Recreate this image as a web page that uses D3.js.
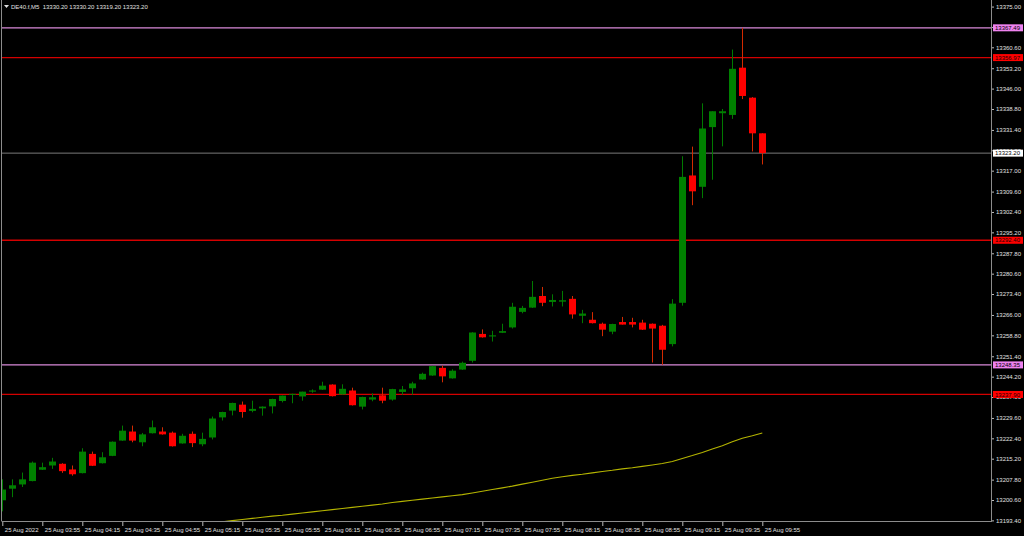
<!DOCTYPE html>
<html>
<head>
<meta charset="utf-8">
<script src="https://cdn.jsdelivr.net/npm/d3@7"></script>
<style>
  html, body { margin: 0; padding: 0; background: #000; }
  svg { display: block; font-family: "Liberation Sans", Arial, sans-serif; }
</style>
</head>
<body>
<div id="chart"></div>
<script>
// bar times (M5)
const times = [
  "03:35","03:40","03:45","03:50","03:55","04:00","04:05","04:10","04:15","04:20","04:25","04:30",
  "04:35","04:40","04:45","04:50","04:55","05:00","05:05","05:10","05:15","05:20","05:25","05:30",
  "05:35","05:40","05:45","05:50","05:55","06:00","06:05","06:10","06:15","06:20","06:25","06:30",
  "06:35","06:40","06:45","06:50","06:55","07:00","07:05","07:10","07:15","07:20","07:25","07:30",
  "07:35","07:40","07:45","07:50","07:55","08:00","08:05","08:10","08:15","08:20","08:25","08:30",
  "08:35","08:40","08:45","08:50","08:55","09:00","09:05","09:10","09:15","09:20","09:25","09:30",
  "09:35","09:40","09:45","09:50","09:55"
];

const openP = [
  13200.5,13204.6,13206.1,13207.3,13211.3,13212.8,13213.4,13211.4,13210.1,13216.9,13213.6,13216.2,
  13221.6,13224.8,13221.0,13224.2,13224.8,13224.4,13220.6,13224.0,13220.3,13222.7,13229.8,13232.2,
  13234.3,13232.1,13233.0,13233.7,13235.6,13237.9,13237.2,13238.9,13239.6,13241.4,13237.9,13239.3,
  13233.6,13236.1,13237.6,13236.1,13238.8,13240.1,13243.2,13244.6,13247.3,13243.6,13246.7,13249.8,
  13259.3,13258.4,13259.7,13261.6,13267.1,13268.6,13272.7,13270.6,13270.7,13271.7,13265.7,13264.3,
  13262.9,13260.1,13263.5,13263.5,13263.3,13262.9,13262.2,13255.7,13270.3,13315.3,13311.3,13332.4,
  13337.3,13336.7,13353.4,13342.8,13330.2
];
const highP = [
  13207.9,13207.9,13210.3,13214.2,13213.8,13215.5,13213.6,13212.8,13218.9,13217.7,13217.5,13221.3,
  13226.9,13226.9,13224.3,13228.7,13226.3,13224.8,13224.0,13224.8,13224.4,13230.1,13231.8,13235.0,
  13235.4,13235.7,13233.7,13236.4,13237.5,13238.2,13238.9,13239.7,13242.4,13241.5,13241.5,13240.3,
  13237.1,13238.3,13240.3,13239.9,13240.9,13242.4,13245.6,13248.0,13248.1,13246.8,13249.5,13259.9,
  13260.9,13260.4,13262.9,13270.3,13269.2,13278.0,13275.9,13273.3,13274.5,13272.7,13267.8,13267.0,
  13263.3,13262.9,13265.3,13265.0,13264.3,13263.0,13262.5,13271.6,13322.1,13325.5,13340.8,13338.0,
  13338.8,13359.8,13367.49,13343.0,13330.2
];
const lowP = [
  13196.6,13201.6,13205.2,13207.2,13211.2,13211.6,13210.2,13209.2,13210.0,13212.6,13213.5,13216.1,
  13221.5,13221.0,13219.6,13224.1,13223.7,13219.5,13220.5,13219.3,13219.6,13222.0,13228.7,13230.5,
  13229.7,13231.6,13230.4,13231.2,13235.1,13234.8,13235.7,13238.5,13239.5,13237.2,13237.9,13234.0,
  13232.6,13235.5,13234.8,13235.7,13237.8,13237.8,13243.1,13244.5,13242.2,13243.5,13246.6,13249.2,
  13258.0,13256.6,13259.6,13261.2,13266.6,13268.5,13269.1,13269.0,13269.0,13264.7,13263.1,13263.0,
  13258.5,13259.2,13262.6,13261.6,13260.7,13249.2,13248.4,13254.9,13269.3,13304.8,13307.3,13313.8,
  13325.6,13335.3,13342.3,13323.8,13319.2
];
const closeP = [
  13204.3,13205.8,13207.9,13213.8,13212.2,13214.2,13210.8,13209.7,13217.7,13212.7,13215.7,13221.2,
  13225.1,13221.6,13223.8,13226.3,13223.8,13219.6,13223.3,13220.7,13222.2,13229.4,13231.7,13234.9,
  13231.7,13232.8,13233.6,13236.3,13237.5,13238.1,13238.9,13239.3,13241.0,13237.3,13239.9,13234.1,
  13237.0,13236.9,13235.7,13239.8,13239.7,13241.8,13245.2,13247.9,13244.3,13246.3,13249.1,13259.8,
  13258.1,13258.8,13260.3,13268.9,13268.5,13272.4,13270.3,13271.3,13271.2,13266.2,13266.5,13263.1,
  13260.8,13262.8,13262.6,13262.6,13260.8,13261.2,13253.7,13270.0,13314.8,13309.7,13331.9,13338.0,
  13338.0,13353.0,13343.4,13330.2,13323.2
];

// moving average, visible from 05:20 onwards
const maStart = "05:20";
const maValues = [
  13192.5,13192.9,13193.3,13193.7,13194.1,13194.5,13194.9,13195.2,13195.6,13196.0,13196.4,13196.8,
  13197.2,13197.6,13198.0,13198.4,13198.8,13199.2,13199.7,13200.1,13200.5,13200.9,13201.3,13201.7,
  13202.1,13202.5,13203.1,13203.7,13204.3,13204.9,13205.5,13206.2,13206.9,13207.6,13208.3,13208.8,
  13209.3,13209.7,13210.2,13210.7,13211.1,13211.6,13212.0,13212.5,13213.0,13213.5,13214.2,13215.3,
  13216.3,13217.4,13218.6,13219.8,13221.2,13222.4,13223.3,13224.3
];

const priceTicks = [
  13375.00,13367.80,13360.60,13353.20,13346.00,13338.80,13331.40,13324.20,13317.00,13309.60,
  13302.40,13295.20,13287.80,13280.60,13273.40,13266.00,13258.80,13251.40,13244.20,13237.00,
  13229.60,13222.40,13215.20,13207.80,13200.60,13193.40
];
const timeTickLabels = [
  "25 Aug 2022","25 Aug 03:55","25 Aug 04:15","25 Aug 04:35","25 Aug 04:55","25 Aug 05:15",
  "25 Aug 05:35","25 Aug 05:55","25 Aug 06:15","25 Aug 06:35","25 Aug 06:55","25 Aug 07:15",
  "25 Aug 07:35","25 Aug 07:55","25 Aug 08:15","25 Aug 08:35","25 Aug 08:55","25 Aug 09:15",
  "25 Aug 09:35","25 Aug 09:55"
];

const pinkLevels = [13367.49, 13248.35];
const redLevels = [13356.97, 13292.40, 13237.90];
const bidPrice = 13323.20;
const header = "DE40.f,M5  13330.20 13330.20 13319.20 13323.20";

const width = 1024, height = 536;
const plot = { left: 2, right: 991, top: 0, bottom: 521 };
const fontSize = 6;

const svg = d3.select('#chart')
  .append('svg')
  .attr('width', width)
  .attr('height', height)
  .style('background', '#000');

const x = d3.scalePoint().domain(times).range([2.3, 762.3]);
const y = d3.scaleLinear().domain([13193.18, 13377.32]).range([plot.bottom, plot.top]);

svg.append('clipPath').attr('id', 'plotclip')
  .append('rect')
  .attr('x', plot.left).attr('y', plot.top)
  .attr('width', plot.right - plot.left).attr('height', plot.bottom - plot.top);

const bars = times.map((t, i) => ({ t, o: openP[i], h: highP[i], l: lowP[i], c: closeP[i] }));

// horizontal levels
const lines = svg.append('g');
lines.selectAll('.pink').data(pinkLevels).join('line')
  .attr('x1', plot.left).attr('x2', plot.right)
  .attr('y1', d => y(d)).attr('y2', d => y(d))
  .attr('stroke', '#d98ad9').attr('stroke-width', 1.3);
lines.selectAll('.red').data(redLevels).join('line')
  .attr('x1', plot.left).attr('x2', plot.right)
  .attr('y1', d => y(d)).attr('y2', d => y(d))
  .attr('stroke', '#d40000').attr('stroke-width', 1.3);
lines.append('line')
  .attr('x1', plot.left).attr('x2', plot.right)
  .attr('y1', y(bidPrice)).attr('y2', y(bidPrice))
  .attr('stroke', '#7a7a7a').attr('stroke-width', 1);

// moving average
const maData = maValues.map((v, i) => [times[times.indexOf(maStart) + i], v]);
svg.append('path')
  .datum(maData)
  .attr('clip-path', 'url(#plotclip)')
  .attr('fill', 'none')
  .attr('stroke', '#b4b400')
  .attr('stroke-width', 1.1)
  .attr('d', d3.line().x(d => x(d[0])).y(d => y(d[1])));

// candles
const candles = svg.append('g').attr('clip-path', 'url(#plotclip)');
candles.selectAll('line.wick').data(bars).join('line')
  .attr('class', 'wick')
  .attr('x1', d => Math.round(x(d.t)) + 0.5).attr('x2', d => Math.round(x(d.t)) + 0.5)
  .attr('y1', d => y(d.h)).attr('y2', d => y(d.l))
  .attr('stroke', d => d.c >= d.o ? '#007a00' : '#d42a00')
  .attr('stroke-width', 1);
candles.selectAll('rect.body').data(bars).join('rect')
  .attr('class', 'body')
  .attr('x', d => Math.round(x(d.t)) - 3)
  .attr('width', 7)
  .attr('y', d => y(Math.max(d.o, d.c)))
  .attr('height', d => Math.max(1, Math.abs(y(d.o) - y(d.c))))
  .attr('fill', d => d.c >= d.o ? '#008000' : '#ff0000');

// frame
svg.append('line').attr('x1', plot.left - 0.5).attr('x2', plot.left - 0.5)
  .attr('y1', plot.top).attr('y2', plot.bottom).attr('stroke', '#8c8c8c');
svg.append('line').attr('x1', plot.left - 0.5).attr('x2', plot.right + 0.5)
  .attr('y1', plot.bottom + 0.5).attr('y2', plot.bottom + 0.5).attr('stroke', '#8c8c8c');
svg.append('line').attr('x1', plot.right + 0.5).attr('x2', plot.right + 0.5)
  .attr('y1', plot.top).attr('y2', plot.bottom + 1).attr('stroke', '#8c8c8c');

// price axis
const yAxis = svg.append('g')
  .attr('transform', `translate(${plot.right + 1},0)`)
  .call(d3.axisRight(y).tickValues(priceTicks).tickSize(2).tickPadding(2).tickFormat(d3.format('.2f')));
yAxis.select('.domain').remove();
yAxis.selectAll('line').attr('stroke', '#bbb');
yAxis.selectAll('text').attr('fill', '#e0e0e0').style('font-size', fontSize + 'px');

// time axis
const tickTimes = times.filter((t, i) => i % 4 === 0);
const xAxis = svg.append('g')
  .attr('transform', `translate(0,${plot.bottom + 1})`)
  .call(d3.axisBottom(x).tickValues(tickTimes).tickSize(4).tickFormat((d, i) => timeTickLabels[i]));
xAxis.select('.domain').remove();
xAxis.selectAll('line').attr('stroke', '#bbb');
xAxis.selectAll('text')
  .attr('fill', '#e0e0e0')
  .attr('text-anchor', 'start')
  .attr('x', 2)
  .attr('y', 5)
  .attr('dy', '0.75em')
  .style('font-size', fontSize + 'px');

// price labels on axis
function axisTag(price, fill, textColor) {
  const g = svg.append('g');
  g.append('rect')
    .attr('x', plot.right + 2).attr('y', y(price) - 3.5)
    .attr('width', 30).attr('height', 7)
    .attr('fill', fill);
  g.append('text')
    .attr('x', plot.right + 4).attr('y', y(price))
    .attr('dy', '0.35em')
    .attr('fill', textColor)
    .style('font-size', fontSize + 'px')
    .text(d3.format('.2f')(price));
}
pinkLevels.forEach(p => axisTag(p, '#ee82ee', '#000'));
redLevels.forEach(p => axisTag(p, '#ff0000', '#200000'));
axisTag(bidPrice, '#ffffff', '#000');

// header
svg.append('path').attr('d', 'M4,5 L9,5 L6.5,8 Z').attr('fill', '#ddd');
svg.append('text')
  .attr('x', 11).attr('y', 6.5)
  .attr('dy', '0.35em')
  .attr('fill', '#e0e0e0')
  .style('font-size', fontSize + 'px')
  .attr('xml:space', 'preserve')
  .text(header);
</script>
</body>
</html>
